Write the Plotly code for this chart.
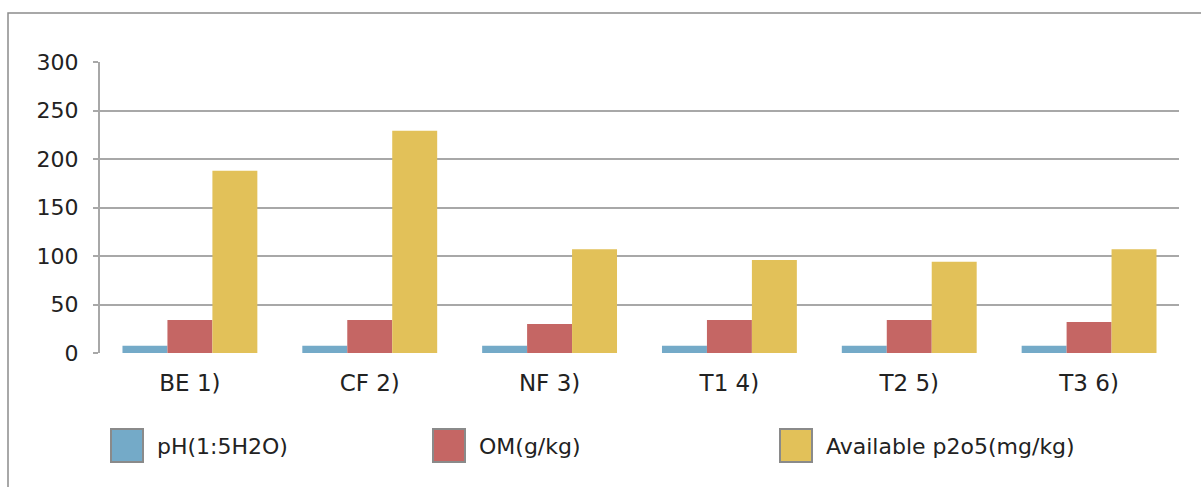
import plotly.graph_objects as go

# Soil properties per treatment
categories = ["BE 1)", "CF 2)", "NF 3)", "T1 4)", "T2 5)", "T3 6)"]
ph_values = [7.5, 7.5, 7.4, 7.5, 7.5, 7.5]
om_values = [34, 34, 30, 34, 34, 32]
p2o5_values = [188, 229, 107, 96, 94, 107]
series_names = ["pH(1:5H2O)", "OM(g/kg)", "Available p2o5(mg/kg)"]
series_colors = ["#74AAC8", "#C56664", "#E2C159"]
y_ticks = [0, 50, 100, 150, 200, 250, 300]

W, H = 1201, 487
L, R, T, B = 100, 22, 62, 134
PW, PH = W - L - R, H - T - B

def px_x(px):
    return (px - L) / PW

def px_y(py):
    return (H - B - py) / PH

FONT = "DejaVu Sans"
TXT = "#222222"

fig = go.Figure()
for name, vals, col in zip(series_names, [ph_values, om_values, p2o5_values], series_colors):
    fig.add_trace(go.Bar(
        x=categories, y=vals, name=name,
        marker=dict(color=col, line=dict(width=0)),
        showlegend=False, hoverinfo="skip",
    ))

shapes = [
    # outer frame
    dict(type="rect", xref="paper", yref="paper",
         x0=px_x(8), x1=px_x(1260), y0=px_y(560), y1=px_y(13),
         line=dict(color="#8C8C8C", width=1.5), fillcolor="rgba(0,0,0,0)", layer="below"),
]
annotations = []

# legend: swatches and labels
legend_x = [111, 433, 780]
for name, col, lx in zip(series_names, series_colors, legend_x):
    shapes.append(dict(type="rect", xref="paper", yref="paper",
                       x0=px_x(lx), x1=px_x(lx + 32), y0=px_y(462), y1=px_y(429),
                       line=dict(color="#8A8A8A", width=2), fillcolor=col))
    annotations.append(dict(xref="paper", yref="paper", x=px_x(lx + 44), y=px_y(446),
                            text=name, showarrow=False, xanchor="left", yanchor="middle",
                            font=dict(family=FONT, size=22, color=TXT)))

fig.update_layout(
    width=W, height=H,
    margin=dict(l=L, r=R, t=T, b=B, pad=0),
    paper_bgcolor="white", plot_bgcolor="white",
    barmode="group", bargap=0.25, bargroupgap=0,
    font=dict(family=FONT, size=22, color=TXT),
    shapes=shapes, annotations=annotations,
    xaxis=dict(showgrid=False, ticks="", showline=False, zeroline=False,
               tickfont=dict(family=FONT, size=23, color=TXT), ticklabelstandoff=14),
    yaxis=dict(range=[0, 300], tickvals=y_ticks, showgrid=True,
               gridcolor="#A8A8A8", gridwidth=2, zeroline=False,
               showline=True, linecolor="#A8A8A8", linewidth=2,
               ticks="outside", ticklen=5, tickcolor="#A8A8A8", tickwidth=2,
               tickfont=dict(family=FONT, size=22, color=TXT), ticklabelstandoff=10),
)

fig.write_html("out.html")
